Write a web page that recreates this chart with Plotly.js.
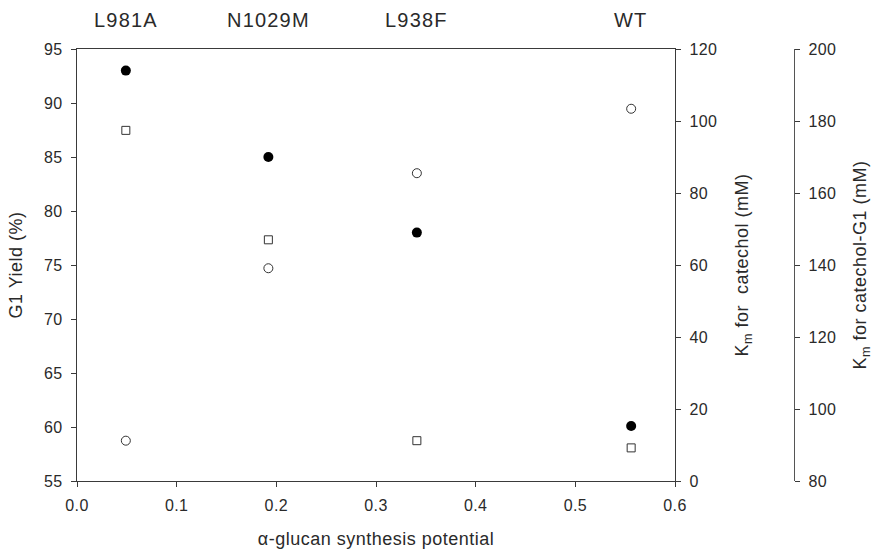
<!DOCTYPE html>
<html>
<head>
<meta charset="utf-8">
<script src="https://cdn.plot.ly/plotly-3.0.1.min.js"></script>
<style>
html,body{margin:0;padding:0;background:#fff;}
#chart{width:881px;height:555px;}
svg text.annotation-text{letter-spacing:1.2px;}
.xtick text,.ytick text,.y2tick text,.y3tick text{letter-spacing:0.4px;}
.g-xtitle text,.g-ytitle text,.g-y2title text,.g-y3title text{letter-spacing:0.5px;}
</style>
</head>
<body>
<div id="chart"></div>
<script>
const mutants = ["L981A", "N1029M", "L938F", "WT"];
const glucanPotential = [0.049, 0.192, 0.341, 0.556];
const g1Yield = [93.0, 85.0, 78.0, 60.1];
const kmCatechol = [97.4, 67.0, 11.2, 9.2];
const kmCatecholG1 = [91.2, 139.1, 165.5, 183.4];

const FONT = "Liberation Sans, Arial, sans-serif";
const TXT = "#2a2a2a";
const AX = "#3a3a3a";

const traces = [
  {x: glucanPotential, y: g1Yield, type: "scatter", mode: "markers", name: "G1 Yield",
   marker: {symbol: "circle", size: 10, color: "#000"}, xaxis: "x", yaxis: "y"},
  {x: glucanPotential, y: kmCatechol, type: "scatter", mode: "markers", name: "Km catechol",
   marker: {symbol: "square-open", size: 8, color: "#333", line: {width: 1, color: "#333"}}, xaxis: "x", yaxis: "y2"},
  {x: glucanPotential, y: kmCatecholG1, type: "scatter", mode: "markers", name: "Km catechol-G1",
   marker: {symbol: "circle-open", size: 9, color: "#333", line: {width: 1, color: "#333"}}, xaxis: "x", yaxis: "y3"}
];

const axCommon = {showgrid: false, zeroline: false, showline: true, linecolor: AX, linewidth: 1.2,
  ticks: "outside", ticklen: 5, tickwidth: 1, tickcolor: AX,
  tickfont: {family: FONT, size: 16, color: TXT}};
const titleFont = {family: FONT, size: 18, color: TXT};

const annotations = mutants.map((m, i) => ({
  x: glucanPotential[i], y: 1, xref: "x", yref: "paper", yanchor: "bottom", yshift: 16,
  text: m, showarrow: false, font: {family: FONT, size: 20, color: TXT}
}));

const layout = {
  width: 881, height: 555,
  margin: {l: 77, r: 0, t: 49, b: 74},
  paper_bgcolor: "#fff", plot_bgcolor: "#fff",
  showlegend: false,
  font: {family: FONT, color: TXT},
  xaxis: Object.assign({}, axCommon, {
    domain: [0, 0.7438], range: [0, 0.6], dtick: 0.1, tickformat: ".1f", mirror: true,
    ticklabelstandoff: 5,
    title: {text: "\u03b1-glucan synthesis potential", font: titleFont, standoff: 19}
  }),
  yaxis: Object.assign({}, axCommon, {
    range: [55, 95], dtick: 5, ticklabelstandoff: 5,
    title: {text: "G1 Yield (%)", font: titleFont, standoff: 16}
  }),
  yaxis2: Object.assign({}, axCommon, {
    overlaying: "y", side: "right", anchor: "x", range: [0, 120], dtick: 20, ticklabelstandoff: 5,
    title: {text: "K<sub>m</sub> for  catechol (mM)", font: titleFont, standoff: 19}
  }),
  yaxis3: Object.assign({}, axCommon, {
    overlaying: "y", side: "right", anchor: "free", position: 0.8918, range: [80, 200], dtick: 20,
    ticklabelstandoff: 5, linecolor: "#555",
    title: {text: "K<sub>m</sub> for catechol-G1 (mM)", font: titleFont, standoff: 18}
  }),
  annotations: annotations
};

Plotly.newPlot("chart", traces, layout, {displayModeBar: false, staticPlot: true});
</script>
</body>
</html>
